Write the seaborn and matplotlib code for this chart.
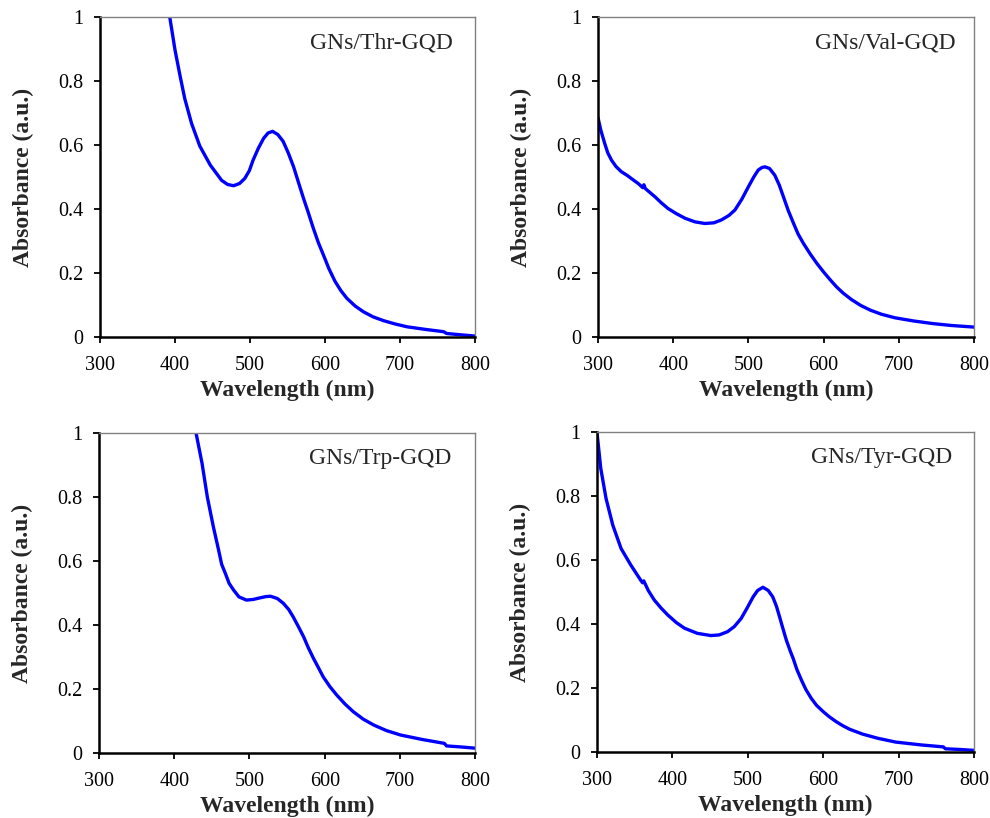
import numpy as np
import pandas as pd
import matplotlib
matplotlib.use("Agg")
import matplotlib.pyplot as plt
from matplotlib.ticker import FuncFormatter
import seaborn as sns

sns.set_style("ticks")
plt.rcParams['font.family'] = ['Liberation Serif', 'DejaVu Serif']

# ---- data (wavelength in nm, absorbance in a.u.) ----
thr_wl = [393, 400, 407, 413, 422, 433, 447, 462, 470, 478, 486, 493, 499, 504, 511, 518, 524, 530,
          537, 544, 551, 558, 564, 571, 578, 584, 591, 598, 605, 613, 621, 629, 640, 651, 664, 678,
          693, 709, 733, 758, 762, 780, 800]
thr_abs = [1.0, 0.897, 0.813, 0.745, 0.668, 0.597, 0.5375, 0.49, 0.477, 0.473, 0.48, 0.496, 0.52, 0.553,
           0.59, 0.621, 0.638, 0.643, 0.633, 0.612, 0.575, 0.532, 0.487, 0.435, 0.386, 0.342, 0.295, 0.255,
           0.214, 0.175, 0.145, 0.121, 0.097, 0.079, 0.063, 0.051, 0.041, 0.032, 0.024, 0.0166, 0.011,
           0.007, 0.003]

val_wl = [300, 304, 309, 313, 318, 324, 331, 339, 347, 354, 359.5, 361, 363, 369, 376, 384, 393, 404,
          416, 429, 442, 454, 464, 474, 482, 491, 500, 507, 513, 518, 522, 528, 535, 541, 547, 553, 560,
          566, 573, 582, 591, 600, 609, 617, 626, 637, 649, 662, 677, 695, 720, 745, 770, 800]
val_abs = [0.686, 0.645, 0.605, 0.576, 0.553, 0.533, 0.517, 0.505, 0.491, 0.479, 0.467, 0.476, 0.464, 0.452,
           0.438, 0.42, 0.402, 0.386, 0.371, 0.36, 0.355, 0.357, 0.366, 0.38, 0.397, 0.43, 0.47, 0.5, 0.522,
           0.53, 0.532, 0.527, 0.506, 0.475, 0.435, 0.395, 0.355, 0.322, 0.293, 0.26, 0.23, 0.203, 0.178,
           0.157, 0.137, 0.117, 0.099, 0.084, 0.071, 0.06, 0.05, 0.042, 0.036, 0.031]

trp_wl = [429, 437, 444, 452, 459, 463, 468, 473, 479, 486, 496, 505, 514, 522, 528, 537, 545, 552, 558,
          565, 572, 578, 585, 592, 598, 607, 616, 627, 638, 651, 665, 682, 701, 730, 759, 762, 780, 800]
trp_abs = [1.0, 0.905, 0.80, 0.707, 0.634, 0.59, 0.561, 0.53, 0.509, 0.488, 0.478, 0.48, 0.485, 0.489,
           0.49, 0.483, 0.468, 0.449, 0.426, 0.395, 0.363, 0.33, 0.296, 0.265, 0.238, 0.207, 0.181, 0.153,
           0.129, 0.106, 0.0875, 0.07, 0.056, 0.042, 0.030, 0.022, 0.019, 0.015]

tyr_wl = [300, 305, 312, 321, 332, 345, 358, 360.5, 362, 368, 376, 385, 394, 405, 416, 433, 451, 462,
          473, 482, 491, 499, 507, 513, 520, 527, 533, 538, 542, 546, 551, 556, 560, 565, 571, 577, 584,
          591, 600, 608, 617, 626, 635, 652, 672, 696, 730, 759, 762, 780, 800]
tyr_abs = [1.0, 0.887, 0.793, 0.709, 0.636, 0.584, 0.537, 0.529, 0.535, 0.505, 0.475, 0.45, 0.428, 0.405,
           0.387, 0.371, 0.364, 0.366, 0.376, 0.392, 0.417, 0.45, 0.485, 0.505, 0.515, 0.505, 0.485, 0.455,
           0.423, 0.39, 0.35, 0.317, 0.293, 0.258, 0.225, 0.195, 0.168, 0.146, 0.126, 0.11, 0.095, 0.082,
           0.071, 0.056, 0.043, 0.031, 0.022, 0.016, 0.01, 0.008, 0.005]

names = ["GNs/Thr-GQD", "GNs/Val-GQD", "GNs/Trp-GQD", "GNs/Tyr-GQD"]
series = [(thr_wl, thr_abs), (val_wl, val_abs), (trp_wl, trp_abs), (tyr_wl, tyr_abs)]

fig = plt.figure(figsize=(9.9, 8.18), dpi=100)
positions = [
    [0.101, 0.588, 0.379, 0.391],
    [0.604, 0.588, 0.380, 0.391],
    [0.100, 0.0795, 0.380, 0.391],
    [0.603, 0.0807, 0.381, 0.391],
]
label_x = [0.941, 0.95, 0.936, 0.942]

for name, (wl, ab), pos, lx in zip(names, series, positions, label_x):
    ax = fig.add_axes(pos)
    df = pd.DataFrame({"Wavelength": wl, "Absorbance": ab})
    sns.lineplot(data=df, x="Wavelength", y="Absorbance", ax=ax, color="#0000ff",
                 linewidth=2.4, sort=False)
    ax.set_xlim(300, 800)
    ax.set_ylim(0, 1)
    ax.set_xticks([300, 400, 500, 600, 700, 800])
    ax.set_yticks([0, 0.2, 0.4, 0.6, 0.8, 1.0])
    ax.yaxis.set_major_formatter(FuncFormatter(lambda v, p: f"{v:g}"))
    ax.tick_params(direction="out", length=4, width=1.3, labelsize=14.5, colors="black")
    ax.tick_params(axis="x", pad=10)
    ax.tick_params(axis="y", pad=8)
    for s in ["left", "bottom"]:
        ax.spines[s].set_color("black")
        ax.spines[s].set_linewidth(1.8)
    for s in ["top", "right"]:
        ax.spines[s].set_visible(True)
        ax.spines[s].set_color("#808080")
        ax.spines[s].set_linewidth(1.0)
    ax.set_xlabel("Wavelength (nm)", fontsize=17, fontweight="bold", labelpad=3)
    ax.set_ylabel("Absorbance (a.u.)", fontsize=17, fontweight="bold", labelpad=17)
    ax.text(lx, 0.92, name, transform=ax.transAxes, ha="right", va="center", fontsize=17)

fig.savefig("out.png", dpi=100)
